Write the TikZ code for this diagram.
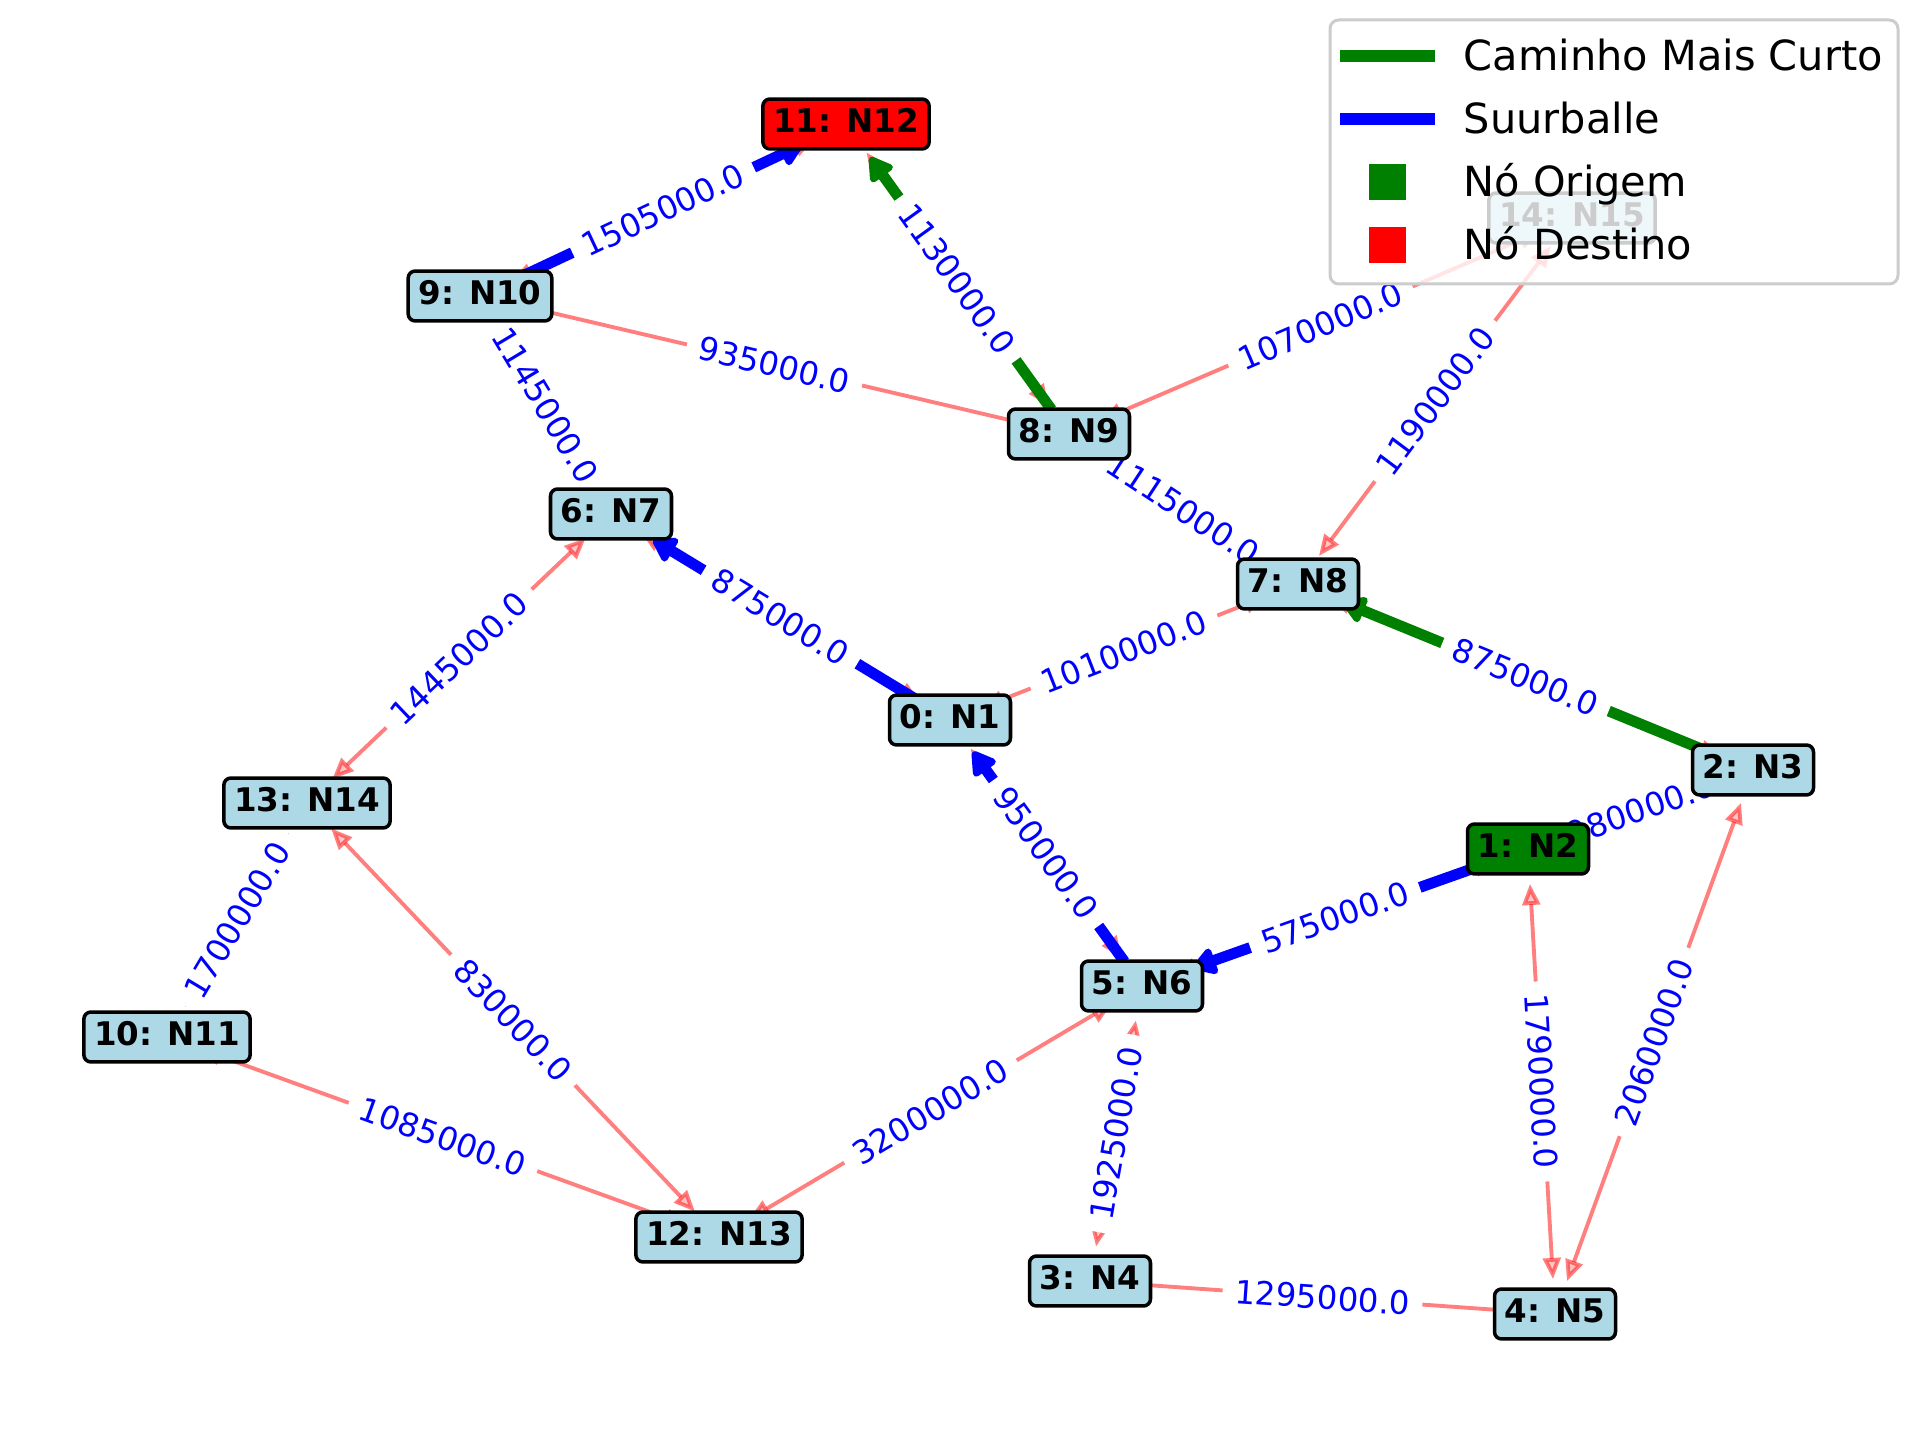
\documentclass[tikz,border=0pt]{standalone}
\usepackage{fontspec}
\setmainfont{DejaVu Sans}
\usetikzlibrary{arrows.meta}
\definecolor{lblue}{HTML}{ADD8E6}
\definecolor{dgreen}{HTML}{008000}
\definecolor{pblue}{HTML}{0000FF}
\definecolor{pred}{HTML}{FF0000}
\definecolor{lgframe}{HTML}{CCCCCC}
\pgfdeclarelayer{paper}
\pgfdeclarelayer{edges}
\pgfdeclarelayer{labels}
\pgfdeclarelayer{legend}
\pgfsetlayers{paper,edges,labels,main,legend}
\begin{document}
\begin{tikzpicture}[x=0.01cm,y=-0.01cm,
  nbox/.style={draw=black, line width=1pt, rounded corners=2pt, fill=lblue,
    font=\fontsize{9.25pt}{11pt}\selectfont\bfseries, inner xsep=2.9pt, inner ysep=2.8pt,
    text height=6.8pt, text depth=1.8pt},
  elabel/.style={sloped, fill=white, rounded corners=2pt, text=pblue,
    font=\fontsize{9.2pt}{11pt}\selectfont, inner xsep=3.6pt, inner ysep=1.5pt},
  redge/.style={draw=pred, opacity=0.5, line width=1.1pt,
    {Triangle[length=6pt,width=5pt,open,fill=pred!45]}-{Triangle[length=6pt,width=5pt,open,fill=pred!45]},
    shorten >=0.35cm, shorten <=0.35cm},
  pathb/.style={draw=pblue, line width=3.1pt, line join=round,
    -{Triangle[length=7.5pt,width=8.5pt,round]}, shorten <=0.3cm},
  pathg/.style={draw=dgreen, line width=3.1pt, line join=round,
    -{Triangle[length=7.5pt,width=8.5pt,round]}, shorten <=0.3cm},
  lgline/.style={line width=3.4pt},
  lgtext/.style={anchor=base west, inner sep=0pt, font=\fontsize{11.8pt}{14pt}\selectfont},
  lgsq/.style={minimum width=10.5pt, minimum height=10.3pt, inner sep=0pt, draw=none}
]
\useasboundingbox (0,0) rectangle (1920,1440);
\begin{pgfonlayer}{paper}
\fill[white] (0,0) rectangle (1920,1440);
\end{pgfonlayer}

% nodes
\node[nbox] (n0) at (950,720) {0: N1};
\node[nbox, fill=dgreen] (n1) at (1528,849) {1: N2};
\node[nbox] (n2) at (1753,770) {2: N3};
\node[nbox] (n3) at (1090,1281) {3: N4};
\node[nbox] (n4) at (1555,1314) {4: N5};
\node[nbox] (n5) at (1142,986) {5: N6};
\node[nbox] (n6) at (611,514) {6: N7};
\node[nbox] (n7) at (1298,584) {7: N8};
\node[nbox] (n8) at (1069,434) {8: N9};
\node[nbox] (n9) at (480,296) {9: N10};
\node[nbox] (n10) at (167,1037) {10: N11};
\node[nbox, fill=pred] (n11) at (846,124) {11: N12};
\node[nbox] (n12) at (719,1237) {12: N13};
\node[nbox] (n13) at (307,803) {13: N14};
\node[nbox] (n14) at (1572,218) {14: N15};

% edges
\begin{pgfonlayer}{edges}
\foreach \a/\b in {9/11, 8/11, 9/8, 8/14, 8/7, 14/7, 9/6, 0/6, 0/7, 2/7, 1/2, 1/5, 0/5,
                   1/4, 2/4, 5/3, 3/4, 5/12, 12/13, 10/12, 10/13, 6/13}
  {\draw[redge] (n\a.center) -- (n\b.center);}
\draw[pathb, shorten >=0.48cm] (n9.center) -- (n11.center);
\draw[pathb, shorten >=0.49cm] (n0.center) -- (n6.center);
\draw[pathb, shorten >=0.39cm] (n5.center) -- (n0.center);
\draw[pathb, shorten >=0.54cm] (n1.center) -- (n5.center);
\draw[pathg, shorten >=0.45cm] (n1.center) -- (n2.center);
\draw[pathg, shorten >=0.48cm] (n2.center) -- (n7.center);
\draw[pathg, shorten >=0.42cm] (n7.center) -- (n8.center);
\draw[pathg, shorten >=0.41cm] (n8.center) -- (n11.center);
\end{pgfonlayer}

% edge labels
\begin{pgfonlayer}{labels}
\path (n9.center) -- node[elabel] (l1) {1505000.0} (n11.center);
\path (n8.center) -- node[elabel] (l2) {1130000.0} (n11.center);
\path (n9.center) -- node[elabel] (l3) {935000.0} (n8.center);
\path (n8.center) -- node[elabel] (l4) {1070000.0} (n14.center);
\path (n8.center) -- node[elabel] (l5) {1115000.0} (n7.center);
\path (n14.center) -- node[elabel] (l6) {1190000.0} (n7.center);
\path (n9.center) -- node[elabel] (l7) {1145000.0} (n6.center);
\path (n0.center) -- node[elabel] (l8) {875000.0} (n6.center);
\path (n0.center) -- node[elabel] (l9) {1010000.0} (n7.center);
\path (n2.center) -- node[elabel] (l10) {875000.0} (n7.center);
\path (n1.center) -- node[elabel] (l11) {980000.0} (n2.center);
\path (n1.center) -- node[elabel] (l12) {575000.0} (n5.center);
\path (n0.center) -- node[elabel] (l13) {950000.0} (n5.center);
\path (n1.center) -- node[elabel] (l14) {1790000.0} (n4.center);
\path (n2.center) -- node[elabel] (l15) {2060000.0} (n4.center);
\path (n5.center) -- node[elabel] (l16) {1925000.0} (n3.center);
\path (n3.center) -- node[elabel] (l17) {1295000.0} (n4.center);
\path (n5.center) -- node[elabel] (l18) {3200000.0} (n12.center);
\path (n12.center) -- node[elabel] (l19) {830000.0} (n13.center);
\path (n10.center) -- node[elabel] (l20) {1085000.0} (n12.center);
\path (n10.center) -- node[elabel] (l21) {1700000.0} (n13.center);
\path (n6.center) -- node[elabel] (l22) {1445000.0} (n13.center);
\end{pgfonlayer}

% legend
\begin{pgfonlayer}{legend}
\draw[draw=lgframe, line width=0.85pt, rounded corners=2.5pt, fill=white, fill opacity=0.8]
  (1330,20) rectangle (1898,284);
\coordinate (lg1a) at (1340,56); \coordinate (lg1b) at (1435,56);
\coordinate (lg2a) at (1340,119); \coordinate (lg2b) at (1435,119);
\draw[lgline, dgreen] (lg1a) -- (lg1b);
\draw[lgline, pblue] (lg2a) -- (lg2b);
\node[lgsq, fill=dgreen] (sq1) at (1387.5,182) {};
\node[lgsq, fill=pred] (sq2) at (1387.5,245) {};
\node[lgtext] (t1) at (1463,71) {Caminho Mais Curto};
\node[lgtext] (t2) at (1463,134) {Suurballe};
\node[lgtext] (t3) at (1463,197) {Nó Origem};
\node[lgtext] (t4) at (1463,260) {Nó Destino};
\end{pgfonlayer}
\end{tikzpicture}
\end{document}
